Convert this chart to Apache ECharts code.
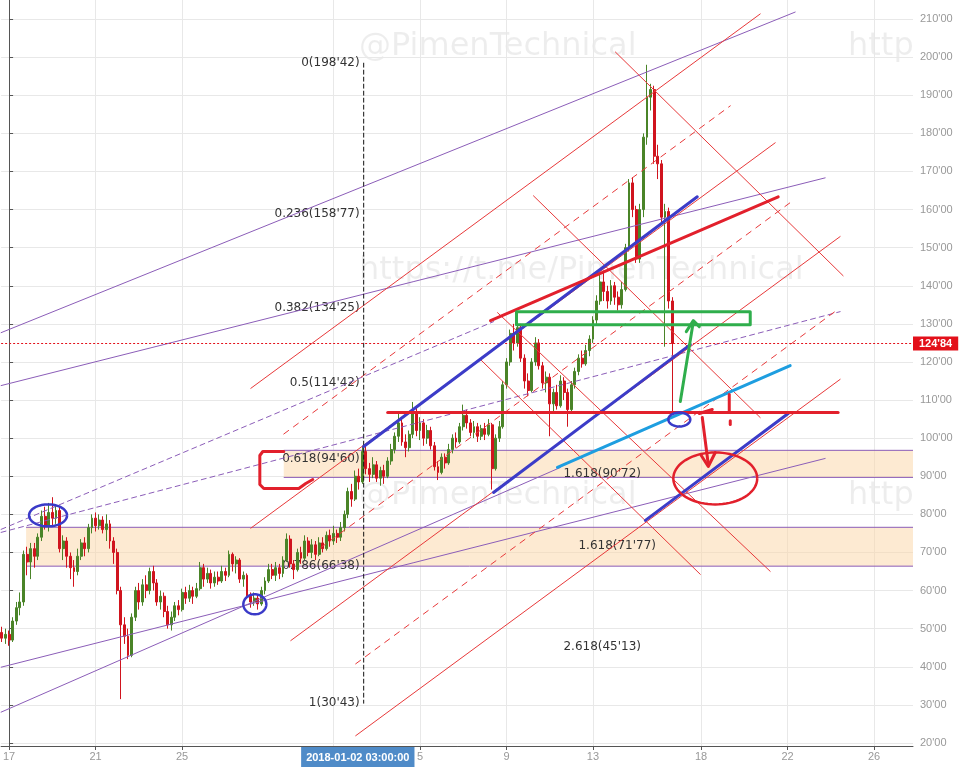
<!DOCTYPE html>
<html><head><meta charset="utf-8">
<script src="https://cdn.jsdelivr.net/npm/echarts@6/dist/echarts.min.js"></script>
<style>html,body{margin:0;padding:0;background:#fff;}#c{width:959px;height:767px;}</style>
</head><body><div id="c"></div>
<script>
// ---- time axis: days after 2017-12-17 00:00, 4h candles ----
const candleStart = -1/3, candleStep = 1/6;
// [open, close, low, high]
const ohlc = [
[49,47.5,46.5,50.5],[47.5,48.5,46,50],[48.5,47,45.5,49.5],[47,52,46.5,53],[52,55.5,51,57],[55.5,57,53.5,59.5],
[57,69.5,56,70.5],[69.5,67.5,64,71.5],[67.5,71,63,72.5],[71,69,66,72.5],[69,74,68,75],[74,79.5,73,81],
[79.5,77,76,82],[77,80.5,75.5,83],[80.5,79,77,84.5],[79,81,77.5,82.5],[81,71,70,82],[71,73,68,74.5],
[73,69,66,74],[69,66,63,70],[66,65,61,68],[65,69,64,71],[69,72.5,68,73.5],[72.5,71,69,74],
[71,76.5,70,77.5],[76.5,79,75,80],[79,77,75.5,80.5],[77,78.5,76,80],[78.5,76,75,79.5],[76,77.5,73,80],
[77.5,73,71,78.5],[73,70,67,74],[70,60,59,71],[60,51,31.5,61],[51,48,46,53],[48,43,42,50],
[43,53,42.5,54],[53,60,52,61],[60,57,55,62],[57,61.5,56,63],[61.5,60,58,64],[60,65,59,66],
[65,62,60,66.5],[62,57,56,63],[57,58.5,55,60],[58.5,54.5,53,59.5],[54.5,51,50,56],[51,53,49.5,54.5],
[53,56,52,57],[56,55,53.5,57.5],[55,59.5,54.5,60.5],[59.5,58,56.5,61],[58,60,57,61.5],[60,58.5,56.5,61],
[58.5,60.5,58,62],[60.5,66,60,67.5],[66,63,61,67],[63,64.5,62,66],[64.5,62,60.5,65.5],[62,63.5,61,65],
[63.5,62.5,61.5,65],[62.5,65,62,66.5],[65,64,62.5,66],[64,69.5,63.5,70.5],[69.5,67,65,70],[67,68,64.5,69],
[68,63,62,68.5],[63,64,61,65],[64,58.5,58,64.5],[58.5,57,55.5,59.5],[57,58,56,59.5],[58,56.5,55,59],
[56.5,60,56,61],[60,62.5,59,63.5],[62.5,65.5,62,67],[65.5,64,63,67],[64,66,62.5,67.5],[66,64.5,63,67],
[64.5,68,63.5,69],[68,73.5,67.5,75],[73.5,67,66,74.5],[67,65.5,63,68],[65.5,70,65,71],[70,68.5,67,71.5],
[68.5,73,68,74.5],[73,70,69,74],[70,72,68.5,73.5],[72,69.5,68,73],[69.5,72.5,69,74],[72.5,71,70,74],
[71,74.5,70.5,75.5],[74.5,73,71.5,76],[73,75,72,77],[75,74,72.5,76],[74,76.5,73,78],[76.5,80,75.5,81],
[80,86,79,87],[86,84,82,88],[84,90,83.5,91.5],[90,88.5,86.5,92],[88.5,96.5,88,98],[96.5,92,90.5,98],
[92,90.5,88.5,93.5],[90.5,93,89.5,95],[93,89.5,88.5,94],[89.5,91.5,87.5,92.5],[91.5,90,88,93],[90,94,89.5,95],
[94,97,93,98.5],[97,100.5,96,101.5],[100.5,104,99,106.6],[104,99,98,105],[99,97.5,95,101],[97.5,101,96.5,102],
[101,107,100,109.5],[107,102,100.5,108.5],[102,104,99.5,105.5],[104,100,98,105],[100,102,98.5,103.5],[102,98,97,103],
[98,92.5,91.5,99],[92.5,91,89,94],[91,95,90.5,96],[95,93.5,92,96],[93.5,97,93,98.5],[97,100,96,101],
[100,99,97.5,101.5],[99,103,98.5,104],[103,106,102,108.8],[106,104,102.5,107.5],[104,101.5,100.5,105],[101.5,103,100,104.5],
[103,100.5,99,104],[100.5,102.5,99.5,103.5],[102.5,101,99.5,104],[101,103.5,100.5,105],[103.5,92,86.5,104],[92,100,91.5,101],
[100,103,99,104.5],[103,114,102.5,115],[114,120,113,121],[120,127.5,119,128.5],[127.5,125,123,130],[125,129,124,132.4],
[129,121,120,130],[121,115,113,122],[115,112.5,111,117],[112.5,120,112,121],[120,125,119,126.5],[125,119,118,126],
[119,114.5,113,120],[114.5,116,112,117.5],[116,109,100.5,117],[109,112,107,113],[112,108.5,107.5,114],[108.5,115,108,116.5],
[115,112,110,116],[112,107.5,103,113],[107.5,114,107,115],[114,117.5,113,118.5],[117.5,121,116.5,122],[121,119.5,118.5,123],
[119.5,123,119,124.5],[123,126,121.5,127],[126,131,125,132],[131,136,130,137.5],[136,141,135,143.5],[141,138.5,136,144],
[138.5,136,134,140],[136,140,135,141.5],[140,137,135,141],[137,135,133.5,138.5],[135,139,134,141],[139,150,138.5,151],
[150,167,149,168],[167,160,158,168.5],[160,147,146,161],[147,160,146,161.5],[160,179,158,180],[179,189.5,177,198],
[189.5,191.5,186,193],[191.5,174,172,192.5],[174,172,168,177],[172,158,156,173],[158,159.5,124,161.5],[159.5,136,134,160.5],
[136,124.84,107,137]
];
const xTickDays = [0,4,8,15,19,23,27,32,36,40];
const xTickNames = ['17','21','25','','5','9','13','18','22','26'];
const crosshairDay = 16.125, crosshairText = '2018-01-02 03:00:00';
const yTicks = [20,30,40,50,60,70,80,90,100,110,120,130,140,150,160,170,180,190,200,210];
const lastPrice = 124.84;
// Fibonacci retracement
const fibNames = ['0','0.236','0.382','0.5','0.618','0.786','1'];
const fibLevels = [198.42,158.77,134.25,114.42,94.60,66.38,30.43];
const fibDay = 16.397;
// extension labels
const extNames = ['1.618','1.618','2.618'];
const extLevels = [90.72,71.77,45.13];
const extDays = [25.635,26.328,25.635];
// zones [dayFrom, dayTo, low, high]
const zones = [[12.70,41.8,89.7,96.8],[0.785,41.8,66.4,76.6]];
// annotation lines as [day, price] points
const purpleSolid = [
 [[-0.37,127.69],[36.351,211.83]],
 [[-0.37,113.80],[37.737,168.32]],
 [[-0.37,39.88],[37.737,94.67]],
 [[-0.37,28.09],[25.497,92.31]]
];
const purpleDashed = [
 [[-0.37,75.27],[38.430,133.20]],
 [[-0.37,76.06],[22.402,130.58]]
];
const redSolid = [
 [[11.178,113.08],[34.734,211.34]],
 [[11.178,76.38],[35.427,177.52]],
 [[13.025,46.87],[38.430,152.91]],
 [[16.028,21.90],[38.430,115.43]],
 [[28.037,201.35],[38.568,142.63]],
 [[24.249,163.60],[34.734,105.41]],
 [[22.587,132.94],[35.196,65.05]],
 [[21.801,120.62],[31.963,64.26]]
];
const redDashed = [
 [[12.702,101.09],[33.349,187.21]],
 [[14.411,71.26],[36.120,161.81]],
 [[16.028,40.77],[38.337,133.83]]
];
const fibVertical = [[[fibDay,198.42],[fibDay,30.43]]];
const blueThick = [
 [[16.397,97.81],[31.824,163.34]],
 [[22.402,85.75],[31.501,124.55]],
 [[29.423,78.42],[36.028,106.46]]
];
const cyanThick = [[[25.358,92.31],[36.120,119.04]]];
const redThick = [
 [[17.506,106.72],[38.337,106.72]],
 [[22.263,130.84],[35.566,163.34]],
 [[12.702,96.50],[11.732,96.50],[11.594,95.45],[11.594,87.85],[11.778,86.80],[13.395,86.80],[13.718,88.11],[14.042,89.16]],
 [[32.055,105.41],[32.333,93.09]],
 [[32.009,95.45],[32.333,92.57],[32.656,96.24]],
 [[31.917,106.46],[32.517,107.51]],
 [[33.303,111.44],[33.303,106.72]],
 [[33.349,104.6],[33.349,103.6]]
];
const greenThick = [
 [[23.464,133.20],[34.273,133.20],[34.273,129.79],[23.464,129.79],[23.464,133.20]],
 [[31.039,109.61],[31.640,130.58]],
 [[31.316,127.96],[31.640,130.84],[31.917,129.27]]
];
// ellipses [centerDay, centerPrice, radiusDays, radiusPrice]
const blueEllipses = [[1.801,79.73,0.878,2.88],[11.363,56.39,0.531,2.62],[30.993,104.89,0.508,1.83]];
const redEllipses = [[32.656,89.42,1.94,6.82]];
// watermark texts
const watermarks = ['@PimenTechnical','https://t.me/PimenTechnical','@PimenTechnical','http','http'];

const fmt = v => v.toFixed(2).replace('.', "'");
const candles = ohlc.map((c,i)=>[candleStart + i*candleStep, c[0], c[1], c[2], c[3]]);

function linesSeries(list, color, width, type, z){
  return {type:'lines', coordinateSystem:'cartesian2d', polyline:true, silent:true, z:z||5, animation:false,
    lineStyle:{color:color, width:width, type:type||'solid', opacity:1, cap:'round', join:'round'},
    data:list.map(c=>({coords:c}))};
}
function ellipseSeries(list, color){
  return {type:'custom', silent:true, z:6, animation:false, clip:true,
    data:list.map(e=>[e[0],e[1]]), encode:{x:0,y:1},
    renderItem:function(params, api){
      const e = list[params.dataIndex];
      const c = api.coord([e[0],e[1]]);
      const s = api.size([e[2],e[3]]);
      const pts=[];
      for(let k=0;k<=72;k++){const a=k/72*Math.PI*2; pts.push([c[0]+s[0]*Math.cos(a), c[1]+s[1]*Math.sin(a)]);}
      return {type:'polyline', shape:{points:pts}, style:{stroke:color, lineWidth:2.5, fill:null}};
    }};
}
const labelFont = '12px "DejaVu Sans"';
const wmFont = '32px "DejaVu Sans"';
const wmPos = [[359,31],[359,255],[359,480],[848,31],[848,480]];
const chart = echarts.init(document.getElementById('c'), null, {renderer:'canvas'});
chart.setOption({
  animation:false,
  backgroundColor:'#ffffff',
  grid:{left:0, right:46, top:0, bottom:20},
  graphic:watermarks.map((t,i)=>({type:'text', left:wmPos[i][0], top:wmPos[i][1], z:0, silent:true,
    style:{text:t, font:wmFont, fill:'rgba(0,0,0,0.07)'}})),
  xAxis:[{
    type:'value', min:-0.37, max:41.8,
    axisLine:{show:true, onZero:false, lineStyle:{color:'#555'}},
    axisTick:{show:true, customValues:xTickDays, length:4, lineStyle:{color:'#555'}},
    axisLabel:{customValues:xTickDays, color:'#999', fontSize:11, fontFamily:'Liberation Sans', margin:5,
      formatter:v=>{const i=xTickDays.findIndex(t=>Math.abs(t-v)<1e-6); return i>=0?xTickNames[i]:'';}},
    splitLine:{show:true, lineStyle:{color:'#e8e8e8'}}
  },{
    type:'value', min:-0.37, max:41.8, position:'bottom',
    axisLine:{show:false}, axisTick:{show:false}, splitLine:{show:false},
    axisLabel:{customValues:[crosshairDay], formatter:()=>crosshairText, color:'#fff', backgroundColor:'#4f8bc8',
      fontSize:11, fontWeight:'bold', fontFamily:'Liberation Sans', padding:[5,5,4,5], margin:1}
  }],
  yAxis:{
    type:'value', position:'right', min:19.2, max:215, scale:true,
    axisLine:{show:true, lineStyle:{color:'#555'}},
    axisTick:{show:true, customValues:yTicks, length:4, lineStyle:{color:'#555'}},
    axisLabel:{customValues:yTicks, color:'#999', fontSize:11, fontFamily:'Liberation Sans', margin:7, formatter:v=>fmt(v)},
    splitLine:{show:true, lineStyle:{color:'#e8e8e8'}}
  },
  series:[
    {type:'custom', silent:true, z:1, animation:false, data:zones.map(z=>[z[0],z[2]]), encode:{x:0,y:1},
      renderItem:function(params, api){
        const zz = zones[params.dataIndex];
        const p0 = api.coord([zz[0], zz[3]]), p1 = api.coord([zz[1], zz[2]]);
        return {type:'group', children:[
          {type:'rect', shape:{x:p0[0], y:p0[1], width:p1[0]-p0[0], height:p1[1]-p0[1]}, style:{fill:'rgba(251,214,166,0.5)'}},
          {type:'line', shape:{x1:p0[0], y1:p0[1], x2:p1[0], y2:p0[1]}, style:{stroke:'#8b5db8', lineWidth:1}},
          {type:'line', shape:{x1:p0[0], y1:p1[1], x2:p1[0], y2:p1[1]}, style:{stroke:'#8b5db8', lineWidth:1}}
        ]};
      }},
    {type:'custom', silent:true, z:2, animation:false, data:fibLevels.map(v=>[fibDay, v]), encode:{x:0,y:1},
      renderItem:function(params, api){
        const i = params.dataIndex; const p = api.coord([fibDay, fibLevels[i]]);
        return {type:'text', x:p[0]-4, y:p[1], style:{text:fibNames[i]+'('+fmt(fibLevels[i])+')', align:'right', verticalAlign:'middle', fill:'#333', font:labelFont}};
      }},
    {type:'custom', silent:true, z:2, animation:false, data:extLevels.map((v,i)=>[extDays[i], v]), encode:{x:0,y:1},
      renderItem:function(params, api){
        const i = params.dataIndex; const p = api.coord([extDays[i], extLevels[i]]);
        return {type:'text', x:p[0], y:p[1], style:{text:extNames[i]+'('+fmt(extLevels[i])+')', align:'left', verticalAlign:'middle', fill:'#333', font:labelFont}};
      }},
    {type:'candlestick', data:candles, encode:{x:0, y:[1,2,3,4]}, barWidth:2.4, z:3, animation:false, silent:true,
      itemStyle:{color:'#4a8428', color0:'#d0141e', borderColor:'#4a8428', borderColor0:'#d0141e', borderWidth:1},
      markLine:{symbol:['none','none'], silent:true, animation:false, precision:2,
        data:[{yAxis:lastPrice}],
        lineStyle:{color:'#e3101a', type:[2,2], width:1},
        label:{show:true, position:'end', distance:0, formatter:fmt(lastPrice), color:'#fff', backgroundColor:'#e3101a',
          fontWeight:'bold', fontSize:11, fontFamily:'Liberation Sans', padding:[2,6,1,6]}}},
    linesSeries(purpleSolid, '#8b5db8', 1, 'solid', 4),
    linesSeries(purpleDashed, '#8b5db8', 1, [5,4], 4),
    linesSeries(redSolid, '#e8393a', 1, 'solid', 4),
    linesSeries(redDashed, '#e8393a', 1, [6,6], 4),
    linesSeries(fibVertical, '#111', 1, [4,3], 4),
    linesSeries(blueThick, '#3c3cc8', 3, 'solid', 5),
    linesSeries(cyanThick, '#1e9ee0', 3, 'solid', 5),
    linesSeries(redThick, '#e2202c', 3, 'solid', 5),
    linesSeries(greenThick, '#2fae4c', 3, 'solid', 5),
    ellipseSeries(blueEllipses, '#3a3ac8'),
    ellipseSeries(redEllipses, '#e2202c')
  ]
});
</script></body></html>
